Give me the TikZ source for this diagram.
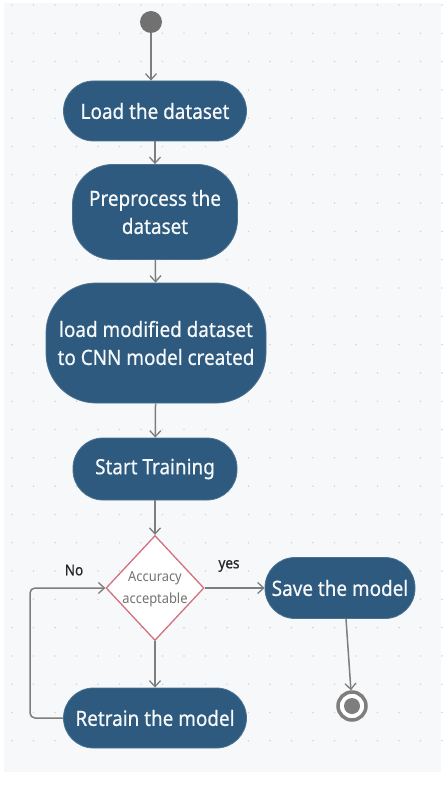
\documentclass[tikz,border=0pt]{standalone}
\usepackage{fontspec}
\setmainfont{Noto Sans}
\newfontfamily\actfont[FakeStretch=0.9,FakeBold=0.6]{Noto Sans}
\newfontfamily\narrowfont[FakeStretch=0.92]{Noto Sans}
\usetikzlibrary{arrows.meta,shapes.geometric}

\definecolor{actblue}{HTML}{2D5A7E}
\definecolor{flowgray}{HTML}{7E7E7E}
\definecolor{decred}{HTML}{D4707E}
\definecolor{canvasbg}{HTML}{F7F8FA}
\definecolor{griddot}{HTML}{D3D6DB}

\tikzset{
  activity/.style={draw=actblue!85!white, line width=0.8pt, fill=actblue, text=white!95!actblue,
    font=\actfont\fontsize{21}{28}\selectfont, align=center, inner sep=0pt},
  flow/.style={draw=flowgray, line width=1.5pt,
    -{Straight Barb[length=6pt,width=11pt,line width=1.3pt]}},
  guard/.style={font=\actfont\fontsize{15}{16}\selectfont, text=black!85},
}

\begin{document}
\begin{tikzpicture}[x=1pt,y=-1pt]
  \useasboundingbox (0,0) rectangle (443,794);
  % dotted canvas
  \fill[canvasbg] (4,3) rectangle (441,772);
  \foreach \gx in {0,...,20}{
    \foreach \gy in {0,...,26}{
      \fill[griddot] ({12+21.5*\gx},{5+28.3*\gy}) circle (0.9);
    }
  }

  % initial and final states
  \node (start) [circle, fill=flowgray!90!black, minimum size=22pt, inner sep=0pt] at (151,22) {};
  \node (finish) [circle, draw=flowgray, line width=3.5pt, fill=white, minimum size=28pt, inner sep=0pt] at (352,706) {};
  \fill[flowgray] (finish.center) circle (8);

  % activities
  \node (load) [activity, minimum width=183pt, minimum height=60pt, rounded corners=30pt] at (155,111) {Load the dataset};
  \node (prep) [activity, minimum width=165pt, minimum height=95pt, rounded corners=40pt] at (155,212) {Preprocess the\\dataset};
  \node (feed) [activity, minimum width=220pt, minimum height=120pt, rounded corners=50pt] at (156,343) {load modified dataset\\to CNN model created};
  \node (train) [activity, minimum width=164pt, minimum height=62pt, rounded corners=30pt] at (155,469) {Start Training};
  \node (save) [activity, minimum width=150pt, minimum height=61pt, rounded corners=30pt] at (340,588) {Save the model};
  \node (retrain) [activity, minimum width=183pt, minimum height=60pt, rounded corners=30pt] at (155,718) {Retrain the model};

  % decision
  \node (check) [diamond, draw=decred, line width=1.3pt, fill=white, minimum width=98pt, minimum height=105pt, inner sep=0pt] at (155,588) {};
  \node (checktext) [font=\narrowfont\fontsize{14}{22}\selectfont, text=black!55, align=center] at (155,589) {Accuracy\\acceptable};

  % control flow
  \draw[flow] (start) -- (start |- load.north);
  \draw[flow] (load) -- (prep);
  \draw[flow] (prep) -- (feed);
  \draw[flow] (feed) -- (train);
  \draw[flow] (train) -- (check);
  \draw[flow] (check) -- (save);
  \draw[flow] (check) -- (retrain);
  \coordinate (loopcorner) at (30,588);
  \draw[flow, rounded corners=5pt] (retrain.west) -| (loopcorner) -- (check.west);
  \draw[flow] ([xshift=6pt]save.south) -- (finish);

  % guards
  \node (guardno) [guard] at (74,570) {No};
  \node (guardyes) [guard] at (229,566) {yes};
\end{tikzpicture}
\end{document}
